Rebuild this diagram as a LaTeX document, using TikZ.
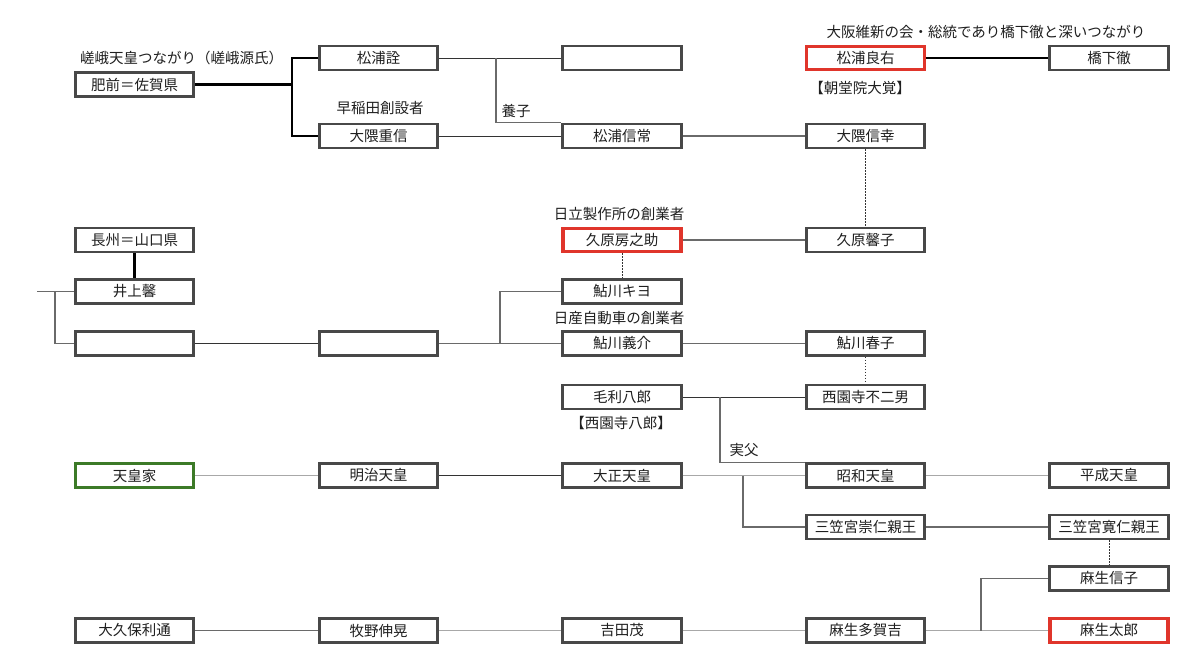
\documentclass[tikz,border=0pt]{standalone}
\usepackage{fontspec}
\setmainfont{Noto Sans CJK JP}
\definecolor{boxc}{HTML}{484848}
\definecolor{redc}{HTML}{E0352B}
\definecolor{greenc}{HTML}{3C7A28}
\definecolor{darkl}{HTML}{333333}
\definecolor{grayl}{HTML}{6A6A6A}
\definecolor{lightl}{HTML}{A8A8A8}
\begin{document}
\begin{tikzpicture}[x=1pt,y=-1pt,
  box/.style={draw=boxc, line width=2.8pt, fill=white, minimum width=118.5pt, minimum height=24pt, inner sep=0pt, font=\fontsize{14.5}{16}\selectfont, text=black!88},
  redbox/.style={box, draw=redc, line width=3.3pt, minimum width=118pt, minimum height=23.5pt},
  greenbox/.style={box, draw=greenc, line width=3.3pt, minimum width=118pt, minimum height=23.5pt},
  lbl/.style={inner sep=0pt, font=\fontsize{14.5}{16}\selectfont, text=black!88},
  thickl/.style={draw=black, line width=2.6pt},
  darkln/.style={draw=darkl, line width=1pt},
  grayln/.style={draw=grayl, line width=1.1pt},
  lightln/.style={draw=lightl, line width=1.4pt},
  dotln/.style={draw=darkl, line width=1pt, dash pattern=on 1.5pt off 1.5pt}]
\useasboundingbox[fill=white] (0,0) rectangle (1200,665);
% boxes
\node[box] (hizen) at (134.5,84.5) {肥前＝佐賀県};
\node[box] (akira) at (378.5,58) {松浦詮};
\node[box] (blankA) at (622,58) {};
\node[redbox] (ryosuke) at (865.5,58) {松浦良右};
\node[box] (hashimoto) at (1109,58) {橋下徹};
\node[box] (shigenobu) at (378.5,136) {大隈重信};
\node[box] (nobutsune) at (622,136) {松浦信常};
\node[box] (nobuyuki) at (865.5,136) {大隈信幸};
\node[box] (choshu) at (134.5,240) {長州＝山口県};
\node[redbox] (fusanosuke) at (622,240) {久原房之助};
\node[box] (kaoruko) at (865.5,240) {久原馨子};
\node[box] (inoue) at (134.5,291.5) {井上馨};
\node[box] (kiyo) at (622,291.5) {鮎川キヨ};
\node[box] (blankB) at (134.5,343.5) {};
\node[box] (blankC) at (378.5,343.5) {};
\node[box] (yoshisuke) at (622,343.5) {鮎川義介};
\node[box] (haruko) at (865.5,343.5) {鮎川春子};
\node[box] (mori) at (622,397) {毛利八郎};
\node[box] (fujio) at (865.5,397) {西園寺不二男};
\node[greenbox] (tennoke) at (134.5,475.5) {天皇家};
\node[box] (meiji) at (378.5,475.5) {明治天皇};
\node[box] (taisho) at (622,475.5) {大正天皇};
\node[box] (showa) at (865.5,475.5) {昭和天皇};
\node[box] (heisei) at (1109,475.5) {平成天皇};
\node[box] (takahito) at (865.5,527) {三笠宮崇仁親王};
\node[box] (tomohito) at (1109,527) {三笠宮寛仁親王};
\node[box] (nobuko) at (1109,578.5) {麻生信子};
\node[box] (okubo) at (134.5,630.5) {大久保利通};
\node[box] (makino) at (378.5,630.5) {牧野伸晃};
\node[box] (yoshida) at (622,630.5) {吉田茂};
\node[box] (takakichi) at (865.5,630.5) {麻生多賀吉};
\node[redbox] (taro) at (1109,630.5) {麻生太郎};
% labels
\node[lbl, anchor=west] (l1) at (80,58) {嵯峨天皇つながり（嵯峨源氏）};
\node[lbl] (l2) at (380,108) {早稲田創設者};
\node[lbl] (l3) at (516,111) {養子};
\node[lbl] (l4) at (986,32) {大阪維新の会・総統であり橋下徹と深いつながり};
\node[lbl] (l5) at (860,88) {【朝堂院大覚】};
\node[lbl] (l6) at (619,214) {日立製作所の創業者};
\node[lbl] (l7) at (619,318) {日産自動車の創業者};
\node[lbl] (l8) at (621,423) {【西園寺八郎】};
\node[lbl] (l9) at (744,450) {実父};
% junction coordinates
\coordinate (jH) at (292,84.5);
\coordinate (jA) at (496,58);
\coordinate (jL0) at (37,291.5);
\coordinate (jL) at (55,291.5);
\coordinate (jC) at (500,343.5);
\coordinate (jM) at (720,397);
\coordinate (jT) at (743,475.5);
\coordinate (jK) at (981,630.5);
% connectors
\draw[thickl] (hizen.east) -- (jH);
\draw[thickl] (akira.west) -| (jH) |- (shigenobu.west);
\draw[thickl] (ryosuke.east) -- (hashimoto.west);
\draw[thickl] (choshu.south) -- (inoue.north);
\draw[darkln] (akira.east) -- (blankA.west);
\draw[grayln] (jA) |- (nobutsune.north west);
\draw[darkln] (shigenobu.east) -- (nobutsune.west);
\draw[grayln] (nobutsune.east) -- (nobuyuki.west);
\draw[dotln] (nobuyuki.south) -- (kaoruko.north);
\draw[grayln] (fusanosuke.east) -- (kaoruko.west);
\draw[dotln] (fusanosuke.south) -- (kiyo.north);
\draw[grayln] (jL0) -- (inoue.west);
\draw[grayln] (jL) |- (blankB.west);
\draw[darkln] (blankB.east) -- (blankC.west);
\draw[grayln] (blankC.east) -- (yoshisuke.west);
\draw[grayln] (jC) |- (kiyo.west);
\draw[grayln] (yoshisuke.east) -- (haruko.west);
\draw[dotln] (haruko.south) -- (fujio.north);
\draw[darkln] (mori.east) -- (fujio.west);
\draw[grayln] (jM) |- (showa.north west);
\draw[lightln] (tennoke.east) -- (meiji.west);
\draw[darkln] (meiji.east) -- (taisho.west);
\draw[lightln] (taisho.east) -- (showa.west);
\draw[grayln] (jT) |- (takahito.west);
\draw[lightln] (showa.east) -- (heisei.west);
\draw[grayln] (takahito.east) -- (tomohito.west);
\draw[dotln] (tomohito.south) -- (nobuko.north);
\draw[grayln] (okubo.east) -- (makino.west);
\draw[lightln] (makino.east) -- (yoshida.west);
\draw[lightln] (yoshida.east) -- (takakichi.west);
\draw[lightln] (takakichi.east) -- (taro.west);
\draw[grayln] (jK) |- (nobuko.west);
\end{tikzpicture}
\end{document}
